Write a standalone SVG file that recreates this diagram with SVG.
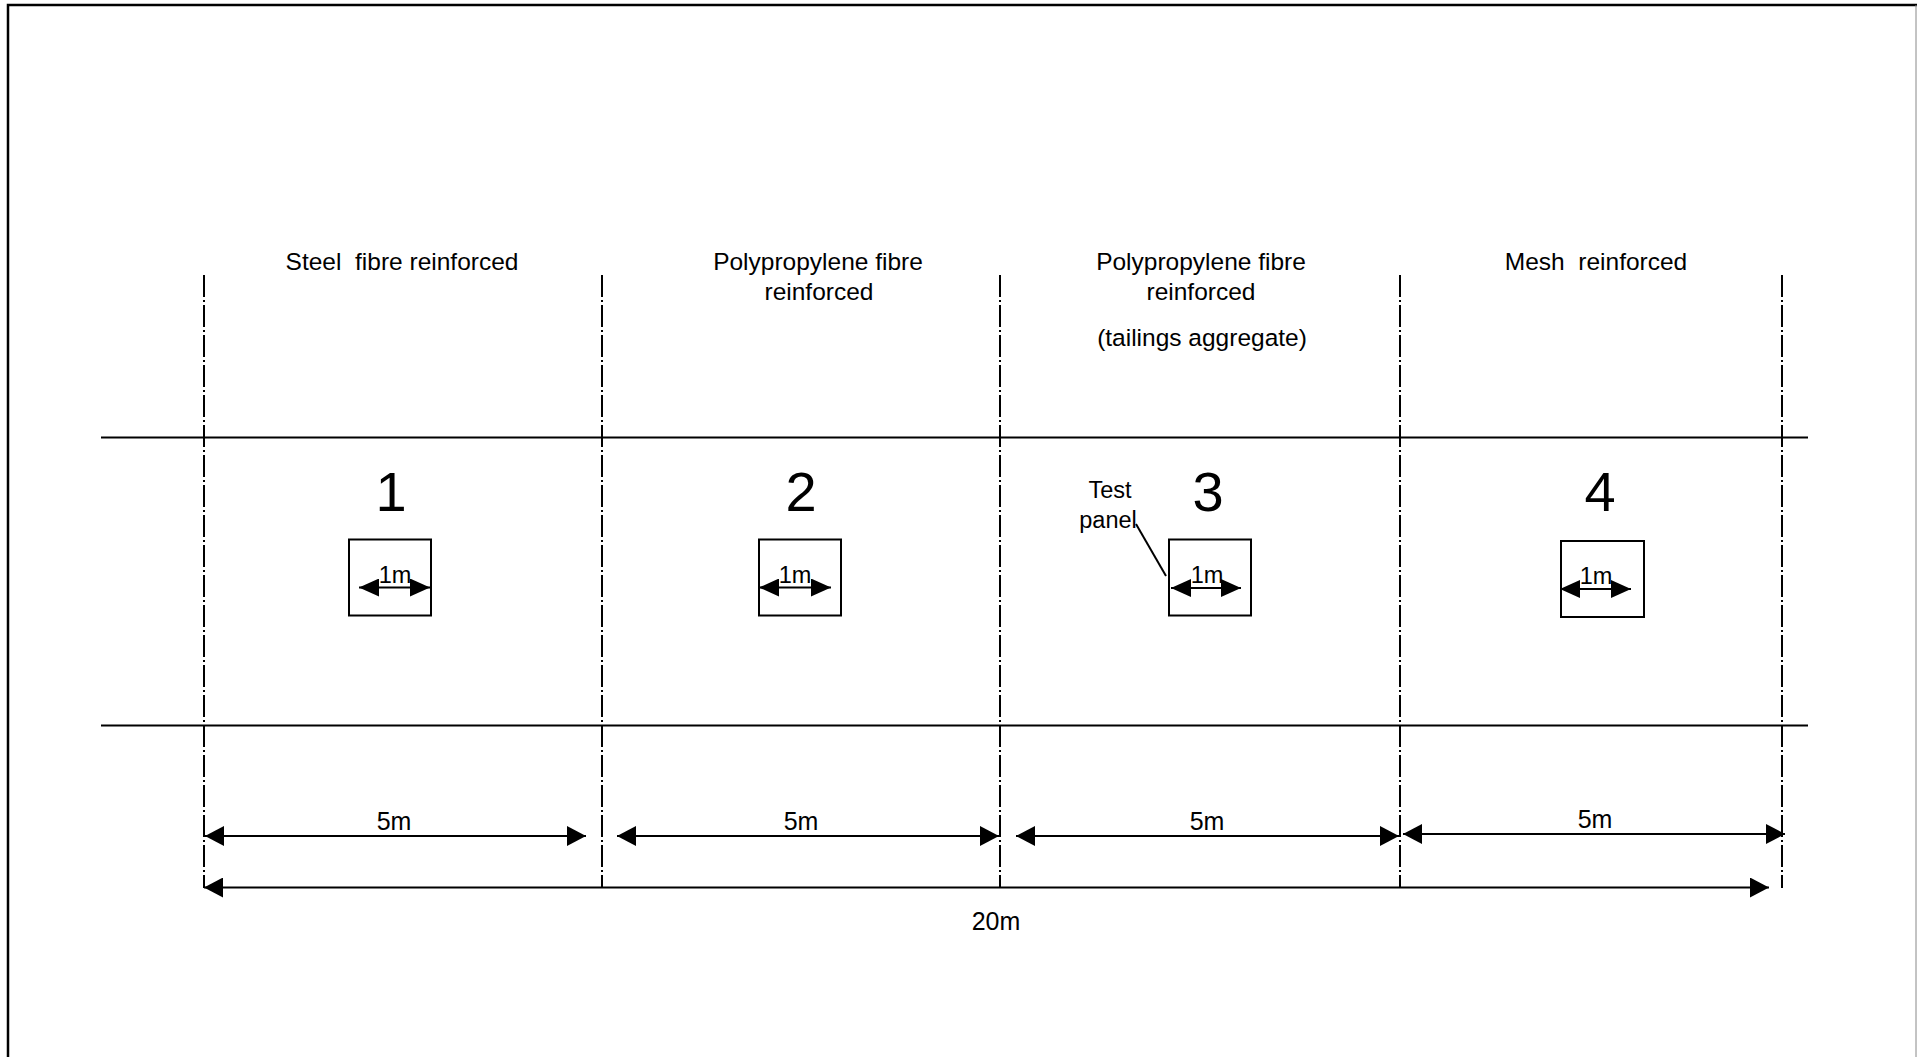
<svg xmlns="http://www.w3.org/2000/svg" width="1917" height="1057" viewBox="0 0 1917 1057">
<style>
text{font-family:"Liberation Sans",Arial,sans-serif;fill:#000}
.h{font-size:24.5px;text-anchor:middle}
.n{font-size:56px;text-anchor:middle}
.s{font-size:23.5px;text-anchor:middle}
.d{font-size:25px;text-anchor:middle}
.cl{stroke:#000;stroke-width:2;stroke-dasharray:22 3 2 3;fill:none}
.ln{stroke:#000;stroke-width:2;fill:none}
.dim{stroke:#000;stroke-width:2;fill:none;marker-start:url(#a);marker-end:url(#a)}
.dim1{stroke:#000;stroke-width:2;fill:none;marker-start:url(#b);marker-end:url(#b)}
.box{stroke:#000;stroke-width:2;fill:none}
</style>
<defs>
<marker id="a" markerUnits="userSpaceOnUse" markerWidth="20" markerHeight="20" refX="19" refY="10" orient="auto-start-reverse" viewBox="0 0 20 20">
<path d="M0,0 L19,10 L0,20 z" fill="#000"/>
</marker>
<marker id="b" markerUnits="userSpaceOnUse" markerWidth="20" markerHeight="18" refX="20" refY="9" orient="auto-start-reverse" viewBox="0 0 20 18">
<path d="M0,0 L20,9 L0,18 z" fill="#000"/>
</marker>
</defs>
<rect width="1917" height="1057" fill="#fff"/>
<g id="border">
<path d="M8,1057 L8,5 L1917,5" stroke="#000" stroke-width="2.5" fill="none"/>
<line x1="1916" y1="5" x2="1916" y2="1057" stroke="#888" stroke-width="1"/>
</g>
<g id="roadway">
<line class="ln" x1="101" y1="437.5" x2="1808" y2="437.5"/>
<line class="ln" x1="101" y1="725.5" x2="1808" y2="725.5"/>
</g>
<g id="centrelines">
<line class="cl" x1="204" y1="275" x2="204" y2="888"/>
<line class="cl" x1="602" y1="275" x2="602" y2="888"/>
<line class="cl" x1="1000" y1="275" x2="1000" y2="888"/>
<line class="cl" x1="1400" y1="275" x2="1400" y2="888"/>
<line class="cl" x1="1782" y1="275" x2="1782" y2="888"/>
</g>
<g id="section1">
<text class="h" x="402" y="270" xml:space="preserve">Steel  fibre reinforced</text>
<text class="n" x="391" y="511">1</text>
<rect class="box" x="349" y="539.5" width="82" height="76"/>
<text class="s" x="395" y="583">1m</text>
<line class="dim1" x1="359" y1="587.5" x2="430" y2="587.5"/>
</g>
<g id="section2">
<text class="h" x="818" y="270">Polypropylene fibre</text>
<text class="h" x="819" y="300">reinforced</text>
<text class="n" x="801" y="511">2</text>
<rect class="box" x="759" y="539.5" width="82" height="76"/>
<text class="s" x="795" y="583">1m</text>
<line class="dim1" x1="759" y1="587.5" x2="831" y2="587.5"/>
</g>
<g id="section3">
<text class="h" x="1201" y="270">Polypropylene fibre</text>
<text class="h" x="1201" y="300">reinforced</text>
<text class="h" x="1202" y="346">(tailings aggregate)</text>
<text class="n" x="1208" y="511">3</text>
<rect class="box" x="1169" y="539.5" width="82" height="76"/>
<text class="s" x="1207" y="583">1m</text>
<line class="dim1" x1="1171" y1="588" x2="1241" y2="588"/>
<text class="s" x="1110" y="498">Test</text>
<text class="s" x="1108" y="528">panel</text>
<line class="ln" x1="1136" y1="524" x2="1166" y2="576" stroke-width="1.5"/>
</g>
<g id="section4">
<text class="h" x="1596" y="270" xml:space="preserve">Mesh  reinforced</text>
<text class="n" x="1600" y="511">4</text>
<rect class="box" x="1561" y="541" width="83" height="76"/>
<text class="s" x="1596" y="584">1m</text>
<line class="dim1" x1="1560" y1="589" x2="1631" y2="589"/>
</g>
<g id="dimensions">
<line class="dim" x1="205" y1="836" x2="586" y2="836"/>
<text class="d" x="394" y="830">5m</text>
<line class="dim" x1="617" y1="836" x2="999" y2="836"/>
<text class="d" x="801" y="830">5m</text>
<line class="dim" x1="1016" y1="836" x2="1399" y2="836"/>
<text class="d" x="1207" y="830">5m</text>
<line class="dim" x1="1403" y1="834" x2="1785" y2="834"/>
<text class="d" x="1595" y="828">5m</text>
<line class="dim" x1="204" y1="887.5" x2="1769" y2="887.5"/>
<text class="d" x="996" y="930">20m</text>
</g>
</svg>
